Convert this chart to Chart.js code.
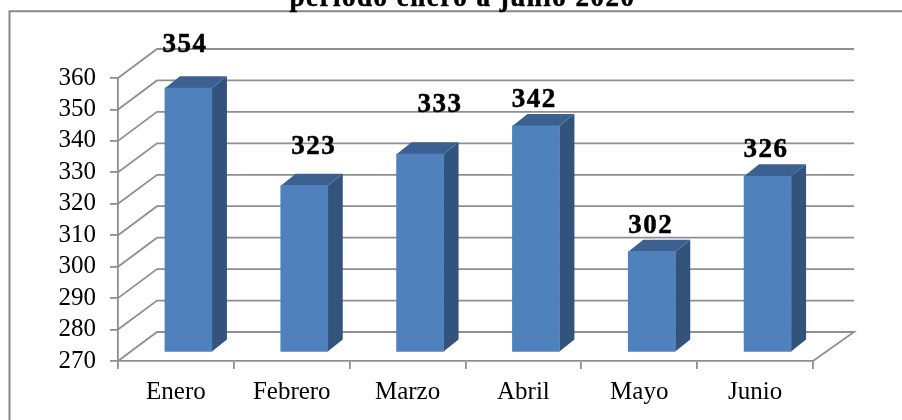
<!DOCTYPE html>
<html><head><meta charset="utf-8">
<style>html,body{margin:0;padding:0;background:#fff;overflow:hidden}#w{position:relative;width:902px;height:420px}</style>
<script src="https://cdn.jsdelivr.net/npm/chart.js@4"></script>
</head><body><div id="w"><canvas id="c" width="902" height="420"></canvas></div>
<script>
const categories = ["Enero","Febrero","Marzo","Abril","Mayo","Junio"];
const values = [354,323,333,342,302,326];
const titleLines = ["periodo enero a junio 2020"];
const yMin = 270, yMax = 360, yStep = 10;

const FONT = '"Liberation Serif", serif';
const AXIS = '#8f8f8f';
const DEPTH = {x:39, xr:41, y:29};
const BAR = {x:12.5, y:8.7, dx:15, dy:12};
const labelShift = [[-3.3,-45],[9.5,-40],[20,-50.5],[-1.7,-28],[-1,-27.5],[-1.5,-28]];

const threeD = {
  id:'threeD',
  beforeDatasetsDraw(chart){
    const {ctx, chartArea:a, scales:{x,y}} = chart;
    ctx.save();
    ctx.strokeStyle = AXIS; ctx.lineWidth = 1.8;
    for(let v=yMin; v<=yMax; v+=yStep){
      const p = y.getPixelForValue(v);
      ctx.beginPath();
      ctx.moveTo(a.left,p); ctx.lineTo(a.left+DEPTH.x,p-DEPTH.y); ctx.lineTo(a.right+DEPTH.xr,p-DEPTH.y);
      if(v===yMin) ctx.lineTo(a.right,p);
      ctx.stroke();
    }
    ctx.restore();
    ctx.save(); ctx.translate(BAR.x,-BAR.y);
    const m = chart.getDatasetMeta(0);
    m.data.forEach(b=>{
      const l=b.x-b.width/2, r=b.x+b.width/2, t=b.y, bt=b.base;
      ctx.fillStyle='#32537b';
      ctx.beginPath(); ctx.moveTo(r,t); ctx.lineTo(r+BAR.dx,t-BAR.dy); ctx.lineTo(r+BAR.dx,bt-BAR.dy); ctx.lineTo(r,bt); ctx.closePath(); ctx.fill();
      ctx.fillStyle='#3c6190';
      ctx.beginPath(); ctx.moveTo(l,t); ctx.lineTo(l+BAR.dx,t-BAR.dy); ctx.lineTo(r+BAR.dx,t-BAR.dy); ctx.lineTo(r,t); ctx.closePath(); ctx.fill();
    });
  },
  afterDatasetsDraw(chart){
    const {ctx} = chart;
    ctx.restore();
    ctx.save();
    ctx.strokeStyle='#868686'; ctx.lineWidth=2;
    ctx.beginPath(); ctx.moveTo(9.5,421); ctx.lineTo(9.5,11.3); ctx.lineTo(903,11.3); ctx.stroke();
    ctx.fillStyle='#000'; ctx.textAlign='center'; ctx.textBaseline='alphabetic';
    ctx.font='bold 27px '+FONT; ctx.letterSpacing='1.5px'; ctx.lineWidth=0.5; ctx.strokeStyle='#000';
    chart.getDatasetMeta(0).data.forEach((b,i)=>{
      const tx=b.x+BAR.x+labelShift[i][0], ty=b.y+labelShift[i][1];
      ctx.fillText(String(values[i]),tx,ty); ctx.strokeText(String(values[i]),tx,ty);
    });
    titleLines.forEach(t=>{ctx.fillText(t,462.5,5.5);ctx.strokeText(t,462.5,5.5);});
    ctx.restore();
  }
};

new Chart(document.getElementById('c'),{
  type:'bar',
  data:{labels:categories,datasets:[{data:values,backgroundColor:'#4f81bd',barThickness:47,base:yMin}]},
  plugins:[threeD],
  options:{
    responsive:false,animation:false,
    layout:{padding:{top:78,right:89,bottom:0,left:0}},
    plugins:{legend:{display:false},title:{display:false},tooltip:{enabled:false}},
    scales:{
      x:{afterFit(s){s.height=59},grid:{display:true,drawOnChartArea:false,color:AXIS,lineWidth:1.8,tickLength:8},border:{color:AXIS,width:1.8},
         ticks:{color:'#000',font:{family:FONT,size:25},padding:8,maxRotation:0,autoSkip:false}},
      y:{min:yMin,max:yMax,afterFit(s){s.width=118},grid:{display:true,drawOnChartArea:false,color:AXIS,lineWidth:1.8,tickLength:8},border:{color:AXIS,width:1.8},
         ticks:{stepSize:yStep,color:'#000',font:{family:FONT,size:25},padding:14,autoSkip:false}}
    }
  }
});
</script></body></html>
